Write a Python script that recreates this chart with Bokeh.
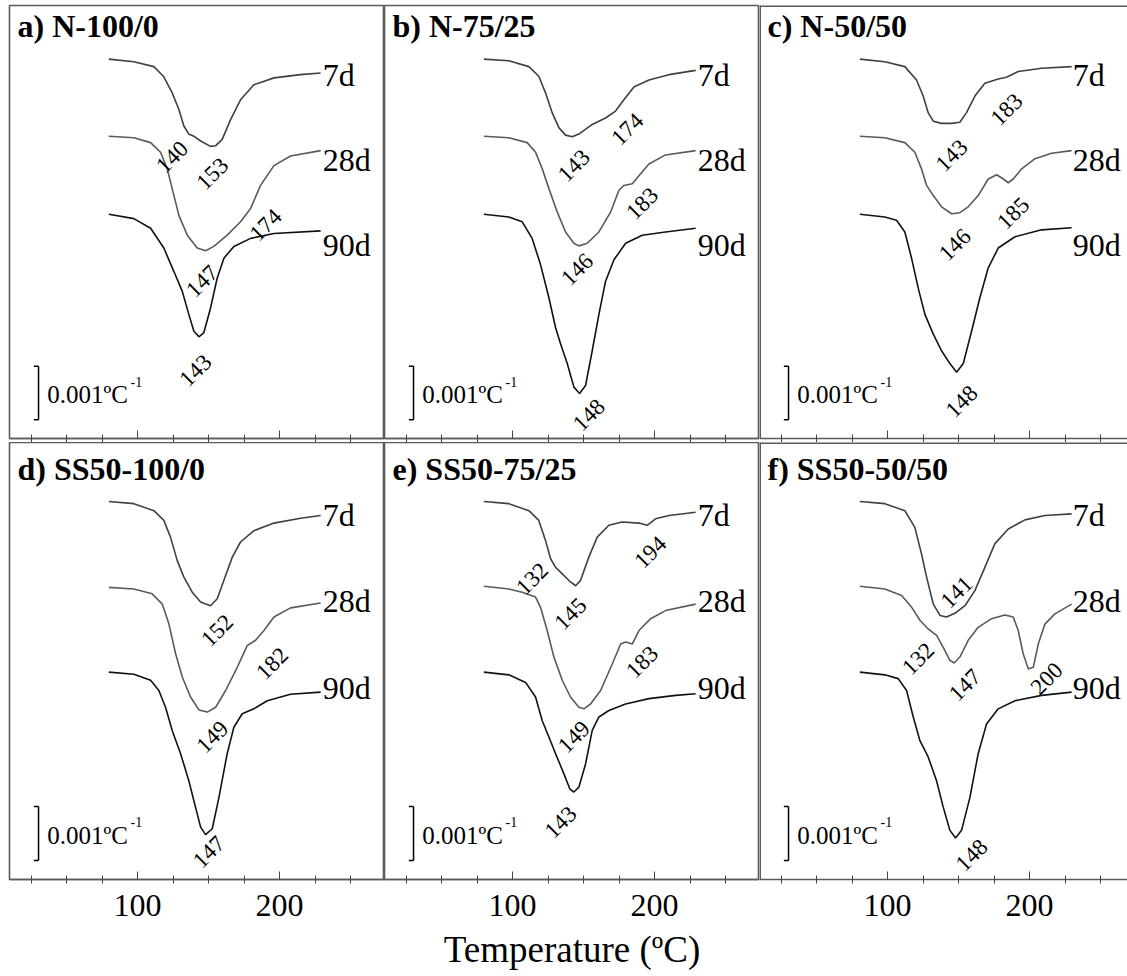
import math
from bokeh.plotting import figure
from bokeh.layouts import gridplot
from bokeh.models import Range1d, FixedTicker, CustomJSTickFormatter, Span
from bokeh.core.properties import value
from bokeh.embed import file_html
from bokeh.resources import INLINE

FONT = "Liberation Serif"

PANEL_TITLES = ["a) N-100/0", "b) N-75/25", "c) N-50/50",
                "d) SS50-100/0", "e) SS50-75/25", "f) SS50-50/50"]
AGES = ["7d", "28d", "90d"]
AGE_COLORS = ["#404040", "#5a5a5a", "#111111"]
X_TICKS = [100, 200]
X_MINOR = [25, 50, 75, 125, 150, 175, 225, 250]
X_LABEL = "Temperature (ºC)"
SCALE_TEXT = "0.001ºC"
SCALE_SUP = "-1"
SCALE_BAR = 1.0  # one y unit = 0.001 ºC^-1 (DTG, curves offset)

# ---- a) N-100/0 ----
T_A7 = [79.8, 97.4, 111.5, 118.5, 124.4, 129.1, 132.6, 136.1, 139.6, 144.4, 151.4, 154.9, 159.6, 165.5, 172.5, 181.9, 196, 214.8, 228.9]
D_A7 = [7.09, 7.04, 6.95, 6.76, 6.46, 6.15, 5.84, 5.69, 5.65, 5.56, 5.46, 5.47, 5.59, 5.96, 6.33, 6.61, 6.74, 6.80, 6.83]
T_A28 = [79.8, 97.4, 109.2, 116.2, 120.9, 124.4, 129.1, 135, 142, 147.9, 153.7, 163.1, 172.5, 179.6, 186.6, 196, 207.7, 228.9]
D_A28 = [5.65, 5.62, 5.53, 5.35, 5.04, 4.67, 4.17, 3.80, 3.56, 3.51, 3.59, 3.80, 4.05, 4.30, 4.73, 5.10, 5.28, 5.38]
T_A90 = [79.8, 97.4, 109.2, 118.5, 125.6, 131.5, 136.1, 139.6, 143.2, 146.7, 151.4, 156.1, 160.8, 167.8, 179.6, 196, 228.9]
D_A90 = [4.19, 4.11, 3.93, 3.56, 3.12, 2.75, 2.32, 2.01, 1.90, 1.98, 2.44, 3.00, 3.37, 3.59, 3.74, 3.83, 3.88]
PEAK_A = ["140", "153", "147", "174", "143"]
PEAK_A_X = [124.4, 152.6, 145.5, 190.1, 140.8]
PEAK_A_Y = [5.35, 5.04, 3.03, 4.08, 1.36]

# ---- b) N-75/25 ----
T_B7 = [79.8, 97.4, 111.5, 118.5, 123.2, 127.9, 132.6, 137.3, 142, 146.7, 156.1, 165.5, 172.5, 178.4, 185.4, 196, 210.1, 228.9]
D_B7 = [7.09, 7.06, 6.95, 6.77, 6.46, 6.09, 5.81, 5.67, 5.64, 5.69, 5.87, 5.99, 6.12, 6.33, 6.57, 6.70, 6.80, 6.88]
T_B28 = [79.8, 97.4, 110.3, 116.2, 120.9, 125.6, 131.5, 137.3, 143.2, 146.7, 152.6, 160.8, 169, 174.9, 178.4, 184.3, 189, 196, 207.7, 228.9]
D_B28 = [5.65, 5.62, 5.53, 5.35, 5.04, 4.67, 4.23, 3.86, 3.65, 3.60, 3.65, 3.86, 4.23, 4.64, 4.73, 4.76, 4.91, 5.13, 5.30, 5.38]
T_B90 = [79.8, 97.4, 106.8, 113.8, 119.7, 125.6, 130.3, 133.8, 138.5, 143.2, 147.2, 151.4, 156.1, 160.8, 165.5, 171.4, 179.6, 191.3, 207.7, 228.9]
D_B90 = [4.19, 4.14, 4.05, 3.74, 3.25, 2.63, 2.07, 1.77, 1.40, 0.96, 0.84, 0.99, 1.64, 2.32, 2.94, 3.34, 3.65, 3.80, 3.86, 3.93]
PEAK_B = ["143", "174", "183", "146", "148"]
PEAK_B_X = [143.2, 180.8, 191.3, 145.5, 153.8]
PEAK_B_Y = [5.19, 5.87, 4.48, 3.25, 0.53]

# ---- c) N-50/50 ----
T_C7 = [80.5, 98.1, 112.2, 120.4, 125.1, 128.6, 132.2, 138, 145.1, 150.9, 155.6, 161.5, 168.5, 177.9, 183.8, 192, 208.5, 229.6]
D_C7 = [7.09, 7.04, 6.95, 6.70, 6.40, 6.09, 5.93, 5.89, 5.89, 5.91, 6.09, 6.40, 6.64, 6.72, 6.75, 6.86, 6.92, 6.95]
T_C28 = [80.5, 98.1, 112.2, 119.2, 123.9, 127.5, 132.2, 138, 145.1, 150.9, 156.8, 163.8, 170.9, 176.8, 181.5, 185, 188.5, 194.4, 203.8, 215.5, 229.6]
D_C28 = [5.65, 5.62, 5.53, 5.35, 5.04, 4.73, 4.54, 4.33, 4.20, 4.22, 4.33, 4.54, 4.85, 4.93, 4.85, 4.78, 4.85, 5.04, 5.23, 5.33, 5.38]
T_C90 = [80.5, 98.1, 106.3, 112.2, 116.9, 121.6, 126.3, 132.2, 138, 143.9, 148.6, 153.3, 159.2, 165, 170.9, 177.9, 189.7, 208.5, 229.6]
D_C90 = [4.19, 4.14, 4.08, 3.86, 3.37, 2.81, 2.32, 1.95, 1.64, 1.40, 1.24, 1.40, 2.01, 2.63, 3.19, 3.56, 3.77, 3.90, 3.94]
PEAK_C = ["143", "183", "146", "185", "148"]
PEAK_C_X = [145.1, 183.8, 147.4, 188.5, 152.1]
PEAK_C_Y = [5.38, 6.24, 3.71, 4.30, 0.78]

# ---- d) SS50-100/0 ----
T_D7 = [79.8, 97.4, 111.5, 118.5, 123.2, 127.9, 132.6, 138.5, 144.4, 151.4, 156.1, 160.8, 166.7, 172.5, 181.9, 196, 214.8, 228.9]
D_D7 = [7.00, 6.96, 6.83, 6.65, 6.34, 5.91, 5.60, 5.32, 5.14, 5.07, 5.20, 5.54, 5.97, 6.25, 6.46, 6.60, 6.69, 6.74]
T_D28 = [79.8, 97.4, 110.3, 117.4, 122.1, 126.8, 131.5, 137.3, 143.2, 149.1, 155, 162, 170.2, 177.2, 183.1, 189, 196, 207.7, 228.9]
D_D28 = [5.41, 5.38, 5.29, 5.10, 4.73, 4.18, 3.75, 3.38, 3.14, 3.10, 3.19, 3.50, 3.93, 4.33, 4.43, 4.61, 4.86, 5.03, 5.12]
T_D90 = [79.8, 97.4, 109.2, 115, 119.7, 124.4, 130.3, 136.1, 140.8, 144.4, 147.9, 152.6, 157.3, 163.1, 167.8, 173.7, 181.9, 191.3, 207.7, 228.9]
D_D90 = [3.84, 3.80, 3.69, 3.50, 3.19, 2.76, 2.33, 1.83, 1.34, 0.97, 0.83, 0.94, 1.52, 2.33, 2.82, 3.07, 3.16, 3.31, 3.43, 3.47]
PEAK_D = ["152", "182", "149", "147"]
PEAK_D_X = [156.1, 194.8, 152.6, 150.2]
PEAK_D_Y = [4.70, 4.09, 2.73, 0.60]

# ---- e) SS50-75/25 ----
T_E7 = [79.8, 97.4, 111.5, 118.5, 123.2, 126.8, 130.3, 135, 140.8, 144.4, 147.9, 153.7, 159.6, 167.8, 177.2, 189, 194.8, 200.7, 210.1, 228.9]
D_E7 = [7.00, 6.96, 6.83, 6.65, 6.28, 5.94, 5.78, 5.66, 5.51, 5.44, 5.54, 5.97, 6.34, 6.56, 6.62, 6.60, 6.56, 6.68, 6.74, 6.80]
T_E28 = [79.8, 97.4, 106.8, 116.2, 119.7, 124.4, 129.1, 135, 140.8, 146.7, 150.2, 154.9, 162, 170.2, 176.1, 179.6, 184.3, 189, 197.2, 207.7, 228.9]
D_E28 = [5.43, 5.38, 5.32, 5.23, 5.04, 4.61, 4.12, 3.69, 3.38, 3.19, 3.16, 3.25, 3.50, 3.99, 4.36, 4.40, 4.36, 4.61, 4.83, 4.98, 5.10]
T_E90 = [79.8, 97.4, 109.2, 116.2, 120.9, 125.6, 130.3, 136.1, 140.3, 143.2, 146.7, 151.4, 156.1, 160.8, 167.8, 179.6, 196, 214.8, 228.9]
D_E90 = [3.84, 3.79, 3.65, 3.38, 2.94, 2.64, 2.33, 1.96, 1.68, 1.62, 1.71, 2.14, 2.76, 3.01, 3.13, 3.25, 3.35, 3.41, 3.44]
PEAK_E = ["132", "145", "194", "183", "149", "143"]
PEAK_E_X = [113.8, 140.8, 197.0, 191.3, 143.2, 133.8]
PEAK_E_Y = [5.66, 5.01, 6.15, 4.12, 2.73, 1.15]

# ---- f) SS50-50/50 ----
T_F7 = [80.5, 98.1, 112.2, 119.2, 123.9, 127.5, 132.2, 136.9, 141.5, 147.4, 154.5, 161.5, 168.5, 175.6, 185, 196.7, 210.8, 229.6]
D_F7 = [7.00, 6.96, 6.83, 6.52, 6.03, 5.60, 5.10, 4.89, 4.86, 4.93, 5.07, 5.35, 5.78, 6.22, 6.49, 6.66, 6.74, 6.77]
T_F28 = [80.5, 98.1, 109.9, 117, 122.8, 128.6, 134.5, 139.2, 143.9, 146.9, 150.9, 156.8, 163.8, 173.2, 182.6, 188.5, 192, 195.5, 199.1, 202.6, 206.1, 210.8, 217.8, 229.6]
D_F28 = [5.43, 5.38, 5.26, 5.04, 4.80, 4.64, 4.52, 4.30, 4.06, 4.01, 4.12, 4.43, 4.67, 4.83, 4.90, 4.86, 4.61, 4.18, 3.90, 3.93, 4.36, 4.73, 4.92, 5.10]
T_F90 = [80.5, 98.1, 107.5, 113.4, 118.1, 122.8, 128.6, 134.5, 139.2, 143.9, 147.9, 152.1, 158, 163.8, 169.7, 177.9, 189.7, 208.5, 229.6]
D_F90 = [3.84, 3.79, 3.72, 3.50, 3.01, 2.57, 2.27, 1.83, 1.34, 0.91, 0.77, 0.91, 1.52, 2.33, 2.88, 3.16, 3.31, 3.41, 3.47]
PEAK_F = ["141", "132", "147", "200", "148"]
PEAK_F_X = [148.6, 121.6, 154.5, 212.0, 159.2]
PEAK_F_Y = [5.41, 4.18, 3.69, 3.81, 0.54]

# label placement (layout, not data)
AGE_LABEL_X = 230.3
AGE_LABEL_Y = [[6.79, 5.21, 3.61], [6.75, 5.16, 3.54]]
TITLE_X = 15.5
TITLE_Y = [7.71, 7.60]
SCALE_X = 30.3
SCALE_Y0 = 0.35
PEAK_SHIFT = -0.09

PANELS = [
    ([(T_A7, D_A7), (T_A28, D_A28), (T_A90, D_A90)], (PEAK_A, PEAK_A_X, PEAK_A_Y)),
    ([(T_B7, D_B7), (T_B28, D_B28), (T_B90, D_B90)], (PEAK_B, PEAK_B_X, PEAK_B_Y)),
    ([(T_C7, D_C7), (T_C28, D_C28), (T_C90, D_C90)], (PEAK_C, PEAK_C_X, PEAK_C_Y)),
    ([(T_D7, D_D7), (T_D28, D_D28), (T_D90, D_D90)], (PEAK_D, PEAK_D_X, PEAK_D_Y)),
    ([(T_E7, D_E7), (T_E28, D_E28), (T_E90, D_E90)], (PEAK_E, PEAK_E_X, PEAK_E_Y)),
    ([(T_F7, D_F7), (T_F28, D_F28), (T_F90, D_F90)], (PEAK_F, PEAK_F_X, PEAK_F_Y)),
]

X0 = 9.86
PX_PER_DEG = 1.4205
PX_PER_UNIT = 54.0
WIDTHS = [384, 375, 368]
BORDER_LEFT = [9, 0, 0]
HEIGHTS = [442, 534]
BORDER_TOP = [5, 0]
BORDER_BOTTOM = [0, 97]
FRAME_H = [437, 437]
BORDER_COLOR = "#5a5a5a"


def make_panel(idx):
    row, col = divmod(idx, 3)
    curves, (plabels, px, py) = PANELS[idx]
    x_end = X0 + (WIDTHS[col] - BORDER_LEFT[col]) / PX_PER_DEG
    y_end = FRAME_H[row] / PX_PER_UNIT
    p = figure(width=WIDTHS[col], height=HEIGHTS[row],
               x_range=Range1d(X0, x_end), y_range=Range1d(0, y_end),
               output_backend="svg", toolbar_location=None,
               y_axis_location=None,
               min_border_left=BORDER_LEFT[col], min_border_right=0,
               min_border_top=BORDER_TOP[row],
               min_border_bottom=BORDER_BOTTOM[row])
    p.grid.visible = False
    p.background_fill_color = "white"
    p.border_fill_color = "white"
    if col == 2:
        # right edge of the figure is cropped: only left and top borders
        p.outline_line_color = None
        p.add_layout(Span(location=X0, dimension="height",
                          line_color=BORDER_COLOR, line_width=3))
        p.add_layout(Span(location=y_end, dimension="width",
                          line_color=BORDER_COLOR, line_width=3))
    else:
        p.outline_line_color = BORDER_COLOR
        p.outline_line_width = 1.6

    xa = p.xaxis[0]
    xa.ticker = FixedTicker(ticks=X_TICKS, minor_ticks=X_MINOR)
    xa.axis_line_color = BORDER_COLOR
    xa.axis_line_width = 1.6
    xa.major_tick_line_color = "#444444"
    xa.minor_tick_line_color = "#444444"
    xa.major_tick_in = 8
    xa.major_tick_out = 0
    xa.minor_tick_in = 4
    xa.minor_tick_out = 4
    if row == 0:
        xa.formatter = CustomJSTickFormatter(code="return ''")
        xa.major_label_standoff = 0
        xa.major_label_text_font_size = "1px"
    else:
        xa.major_label_text_font = FONT
        xa.major_label_text_font_size = "32px"
        xa.major_label_text_color = "black"
        xa.major_label_standoff = 11
        if col == 1:
            xa.axis_label = X_LABEL
            xa.axis_label_text_font = FONT
            xa.axis_label_text_font_size = "37px"
            xa.axis_label_text_font_style = "normal"
            xa.axis_label_text_color = "black"
            xa.axis_label_standoff = 10

    for (t, d), color in zip(curves, AGE_COLORS):
        p.line(t, d, line_color=color, line_width=1.6)

    # age labels at right end
    p.text(x=[AGE_LABEL_X] * 3, y=AGE_LABEL_Y[row], text=AGES,
           text_font=value(FONT), text_font_size="32px",
           text_align="left", text_baseline="alphabetic", text_color="black")

    # peak temperature labels
    p.text(x=px, y=[v + PEAK_SHIFT for v in py], text=plabels, angle=math.pi / 4,
           text_font=value(FONT), text_font_size="23px",
           text_align="center", text_baseline="middle", text_color="black")

    # panel title
    p.text(x=[TITLE_X], y=[TITLE_Y[row]], text=[PANEL_TITLES[idx]],
           text_font=value(FONT), text_font_size="32px", text_font_style="bold",
           text_align="left", text_baseline="alphabetic", text_color="black")

    # scale bar (0.001 ºC^-1)
    y1 = SCALE_Y0 + SCALE_BAR
    cap = 3.3
    p.segment(x0=[SCALE_X, SCALE_X - cap, SCALE_X - cap],
              y0=[SCALE_Y0, SCALE_Y0, y1],
              x1=[SCALE_X, SCALE_X, SCALE_X],
              y1=[y1, SCALE_Y0, y1], line_color="black", line_width=1.5)
    p.text(x=[SCALE_X + 6.1], y=[SCALE_Y0 + 0.47], text=[SCALE_TEXT],
           text_font=value(FONT), text_font_size="25px",
           text_align="left", text_baseline="alphabetic", text_color="black")
    p.text(x=[SCALE_X + 64.8], y=[SCALE_Y0 + 0.71], text=[SCALE_SUP],
           text_font=value(FONT), text_font_size="14px",
           text_align="left", text_baseline="alphabetic", text_color="black")
    return p


figs = [make_panel(i) for i in range(6)]
grid = gridplot([figs[0:3], figs[3:6]], toolbar_location=None)

open("out.html", "w").write(file_html(grid, INLINE))
